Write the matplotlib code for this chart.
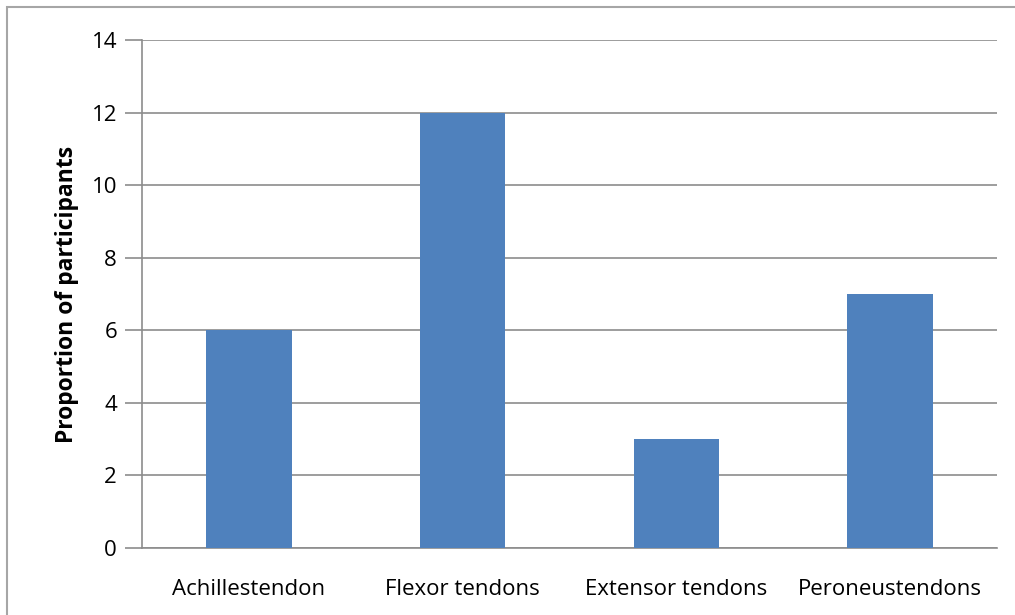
import numpy as np
import matplotlib
matplotlib.use("Agg")
import matplotlib.pyplot as plt
from matplotlib.patches import Rectangle

#------------------------------------------------------------------------------#

categories = ["Achillestendon", "Flexor tendons", "Extensor tendons", "Peroneustendons"]
values     = [6, 12, 3, 7]
yTicks     = [0, 2, 4, 6, 8, 10, 12, 14]

#------------------------------------------------------------------------------#

plt.rcParams['font.family'] = ['Open Sans', 'DejaVu Sans']

W, H = 1015, 615
fig  = plt.figure(figsize=(W/100, H/100), dpi=100)
ax   = fig.add_axes([142/W, 1 - 548/H, (997 - 142)/W, (548 - 40)/H])

gridColor = '#8c8c8c'
barColor  = '#4f81bd'

x = np.arange(len(categories))
ax.bar(x, values, width=0.4, color=barColor, zorder=3)

ax.set_xlim(-0.5, len(categories) - 0.5)
ax.set_ylim(0, 14)
ax.set_yticks(yTicks)
ax.set_xticks(x)
ax.set_xticklabels(categories, fontsize=16)
ax.tick_params(axis='x', length=0, pad=22)
ax.tick_params(axis='y', length=12, width=1.2, color=gridColor, labelsize=16, pad=6)

ax.yaxis.grid(True, color=gridColor, linewidth=1.2, zorder=0)
ax.set_axisbelow(True)

for side in ['top', 'right']:
    ax.spines[side].set_visible(False)
for side in ['left', 'bottom']:
    ax.spines[side].set_color(gridColor)
    ax.spines[side].set_linewidth(1.2)

ax.set_ylabel("Proportion of participants", fontsize=16.5, fontweight='bold', labelpad=9)

# chart area border
fig.patches.append(Rectangle((7/W, -0.1), 1.2, 1 - 7/H + 0.1, transform=fig.transFigure,
                             fill=False, edgecolor='#a6a6a6', linewidth=1.5))

fig.savefig("out.png", dpi=100)
